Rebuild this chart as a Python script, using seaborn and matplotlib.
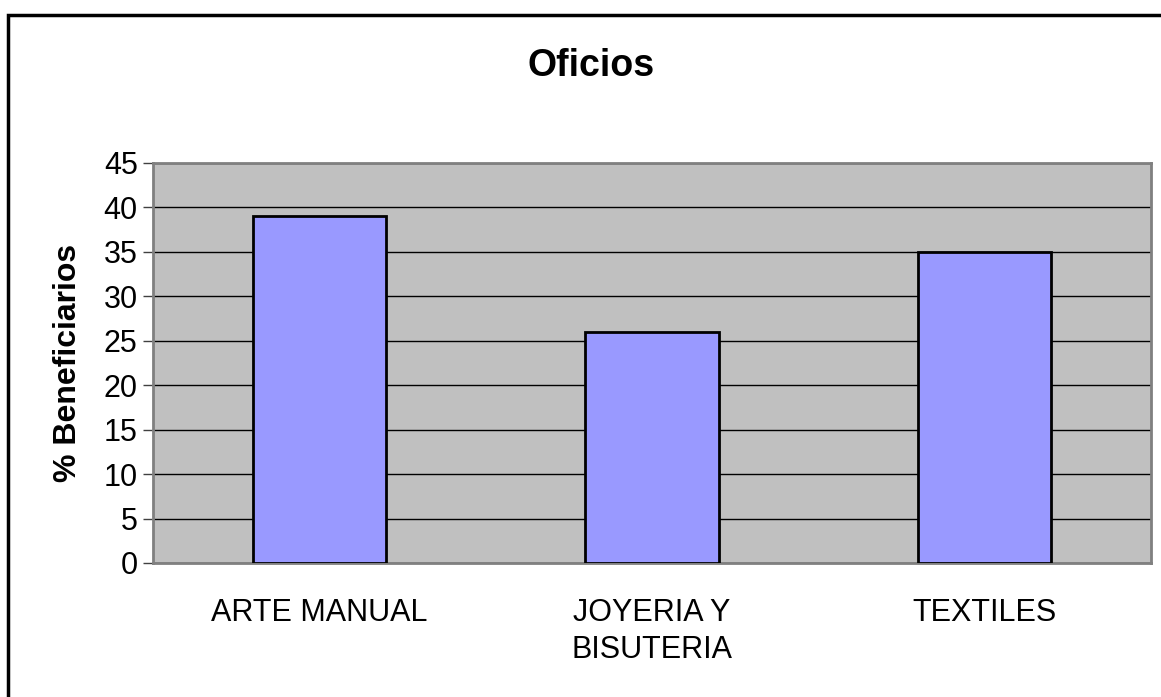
import matplotlib
matplotlib.use('Agg')
import matplotlib.pyplot as plt
import seaborn as sns
import pandas as pd
from matplotlib.patches import Rectangle

oficios = ['ARTE MANUAL', 'JOYERIA Y\nBISUTERIA', 'TEXTILES']
beneficiarios = [39, 26, 35]

sns.set_style('white')
plt.rcParams['font.family'] = ['Liberation Sans', 'DejaVu Sans']
plt.rcParams['text.color'] = 'black'
plt.rcParams['axes.labelcolor'] = 'black'
plt.rcParams['xtick.color'] = 'black'
plt.rcParams['ytick.color'] = 'black'

data = pd.DataFrame({'oficio': oficios, 'pct': beneficiarios})

fig = plt.figure(figsize=(11.61, 6.97), dpi=100)
W, H = 1161, 697
ax = fig.add_axes([153 / W, 1 - 563 / H, (1151 - 153) / W, (563 - 163) / H])
ax.set_facecolor('#C0C0C0')

sns.barplot(data=data, x='oficio', y='pct', color='#9999FF', width=0.4,
            edgecolor='black', linewidth=2, saturation=1, ax=ax, zorder=3)

ax.set_ylim(0, 45)
ax.set_xlim(-0.5, 2.5)
ax.set_yticks(range(0, 46, 5))
ax.yaxis.grid(True, color='black', linewidth=1)
ax.set_axisbelow(True)
ax.tick_params(axis='y', direction='out', length=7, width=1, color='#404040',
               labelsize=22, pad=4, left=True)
ax.set_xticks([-0.5, 0.5, 1.5, 2.5], minor=True)
ax.tick_params(axis='x', which='minor', direction='out', length=7, width=1, color='#404040')
ax.tick_params(axis='x', which='major', length=0, labelsize=22, pad=25)
for lab in ax.get_xticklabels():
    lab.set_linespacing(1.3)

for side in ['top', 'right', 'bottom', 'left']:
    ax.spines[side].set_visible(True)
    ax.spines[side].set_color('#808080')
    ax.spines[side].set_linewidth(2)

ax.set_xlabel('')
ax.set_ylabel('% Beneficiarios', fontsize=23, fontweight='bold', labelpad=15)
fig.text(591 / W, 1 - 66 / H, 'Oficios', ha='center', va='center',
         fontsize=27, fontweight='bold')

# black outer border of the chart area
fig.patches.append(Rectangle((8 / W, -0.05), 1.1, 1 - 15 / H + 0.05,
                             transform=fig.transFigure, fill=False,
                             edgecolor='black', linewidth=2.5))

fig.savefig('out.png', dpi=100)
